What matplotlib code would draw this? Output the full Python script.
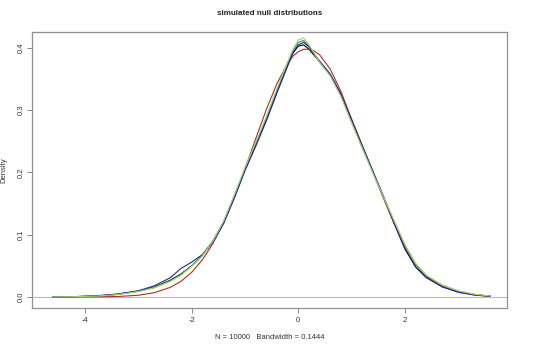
import matplotlib
matplotlib.use('Agg')
from matplotlib import pyplot as plt

# evaluation grid shared by every density curve
x_grid = [-4.6, -4.2, -3.8, -3.4, -3.0, -2.7, -2.4, -2.2, -2.0, -1.8,
          -1.6, -1.4, -1.2, -1.0, -0.8, -0.6, -0.4, -0.2, -0.1, 0.0,
          0.1, 0.2, 0.3, 0.4, 0.6, 0.8, 1.0, 1.2, 1.4, 1.6,
          1.8, 2.0, 2.2, 2.4, 2.7, 3.0, 3.3, 3.6]

dens_black = [0.0003, 0.0006, 0.0016, 0.0042, 0.0095, 0.016, 0.027, 0.037, 0.050, 0.067,
              0.090, 0.121, 0.162, 0.205, 0.244, 0.285, 0.330, 0.373, 0.392, 0.403,
              0.405, 0.398, 0.388, 0.378, 0.357, 0.325, 0.283, 0.242, 0.201, 0.160,
              0.118, 0.078, 0.049, 0.032, 0.017, 0.0085, 0.0038, 0.0014]
dens_red = [0.0, 0.00003, 0.0002, 0.0007, 0.0028, 0.0069, 0.0155, 0.0252, 0.0396, 0.0596,
            0.0863, 0.120, 0.160, 0.206, 0.254, 0.301, 0.343, 0.375, 0.387, 0.394,
            0.398, 0.398, 0.395, 0.389, 0.366, 0.330, 0.286, 0.243, 0.200, 0.158,
            0.118, 0.082, 0.053, 0.034, 0.017, 0.0075, 0.003, 0.0010]
dens_green = [0.0002, 0.0005, 0.0015, 0.004, 0.009, 0.015, 0.026, 0.036, 0.050, 0.067,
              0.090, 0.120, 0.161, 0.206, 0.246, 0.287, 0.332, 0.375, 0.395, 0.409,
              0.412, 0.403, 0.390, 0.377, 0.356, 0.323, 0.281, 0.240, 0.200, 0.160,
              0.121, 0.083, 0.053, 0.034, 0.019, 0.0095, 0.0042, 0.0015]
dens_blue = [0.0002, 0.0005, 0.0018, 0.0048, 0.010, 0.018, 0.031, 0.046, 0.056, 0.068,
             0.088, 0.118, 0.159, 0.203, 0.242, 0.283, 0.328, 0.371, 0.392, 0.405,
             0.409, 0.402, 0.390, 0.379, 0.358, 0.326, 0.284, 0.243, 0.202, 0.161,
             0.118, 0.077, 0.048, 0.031, 0.016, 0.008, 0.0035, 0.0012]
dens_yellowgreen = [0.0002, 0.0005, 0.0014, 0.0038, 0.0088, 0.015, 0.025, 0.035, 0.049, 0.066,
                    0.090, 0.122, 0.164, 0.208, 0.248, 0.290, 0.335, 0.378, 0.398, 0.413,
                    0.416, 0.405, 0.391, 0.377, 0.355, 0.322, 0.280, 0.239, 0.199, 0.160,
                    0.122, 0.084, 0.054, 0.035, 0.019, 0.0098, 0.0044, 0.0016]

curves = [(dens_black, 'black'), (dens_red, '#b22a2a'), (dens_green, '#2e9a3c'),
          (dens_blue, '#2424a8'), (dens_yellowgreen, '#a8d468')]

x_ticks = [-4, -2, 0, 2]
y_ticks = [0.0, 0.1, 0.2, 0.3, 0.4]

plt.rcParams['font.family'] = ['Liberation Sans', 'DejaVu Sans']

fig = plt.figure(figsize=(5.4, 3.48), dpi=100)
ax = fig.add_axes([32 / 540, 40 / 348, 475 / 540, 276 / 348])

ax.axhline(0, color='#bbbbbb', lw=0.8, zorder=1)
for dens, col in curves:
    ax.plot(x_grid, dens, color=col, lw=0.8, zorder=2)

ax.set_xlim(-4.996, 3.915)
ax.set_ylim(-0.0177, 0.4257)

ax.set_xticks(x_ticks)
ax.set_xticklabels([str(t) for t in x_ticks])
ax.set_yticks(y_ticks)
ax.set_yticklabels(['%.1f' % t for t in y_ticks], rotation=90, va='center')
ax.tick_params(axis='both', direction='out', length=3.5, width=0.7,
               color='#888888', labelsize=5.5, labelcolor='#333333', pad=3)
ax.tick_params(axis='y', pad=2)

for side in ax.spines.values():
    side.set_color('#909090')
    side.set_linewidth(0.9)

ax.set_title('simulated null distributions', fontsize=5.8, fontweight='bold',
             color='#222222', pad=12)
ax.set_xlabel('N = 10000   Bandwidth = 0.1444', fontsize=5.5, color='#333333')
ax.xaxis.set_label_coords(0.5, -0.095)
ax.set_ylabel('Density', fontsize=5.5, color='#333333')
ax.yaxis.set_label_coords(-0.052, 0.5)

fig.savefig('out.png', dpi=100, facecolor='white')
